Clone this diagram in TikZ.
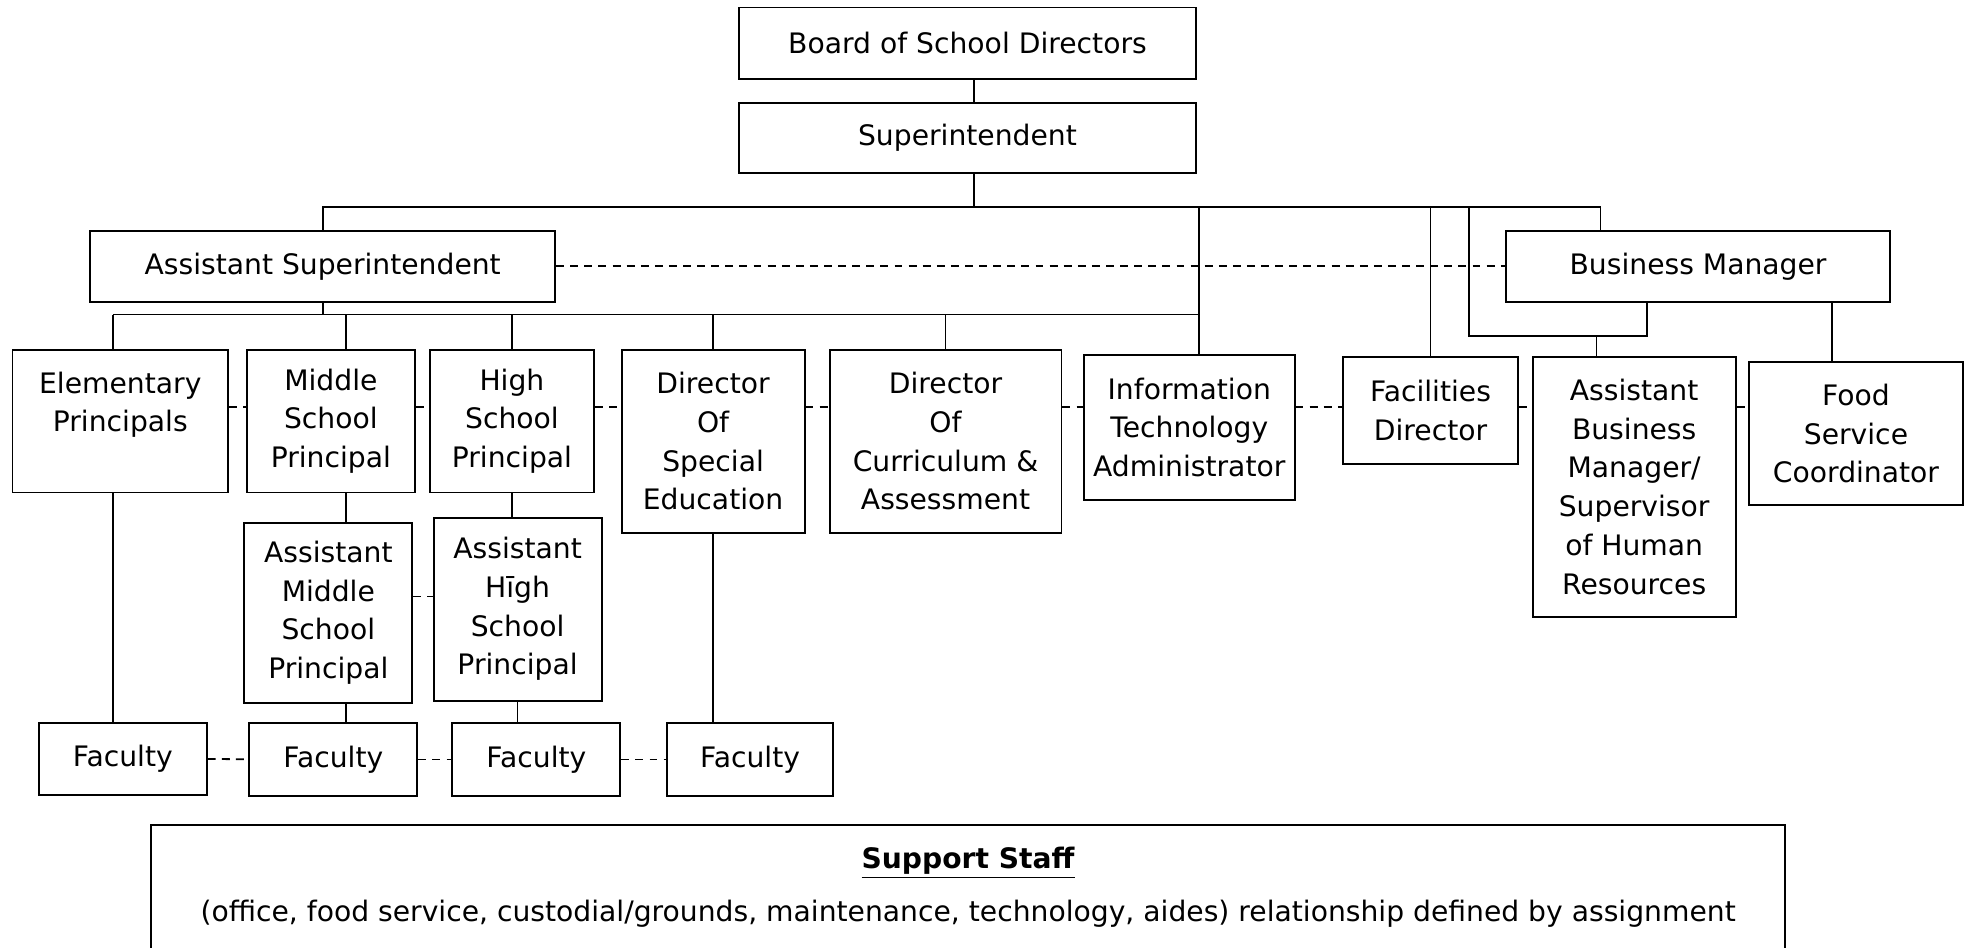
\documentclass[tikz,border=0pt]{standalone}
\usepackage{fontspec}
\setmainfont{DejaVu Sans}

\begin{document}
\begin{tikzpicture}[
    x=0.025cm, y=-0.025cm,
    box/.style={draw, line width=1.1pt, align=center, inner sep=2pt, font=\fontsize{16}{22}\selectfont},
    link/.style={line width=1pt},
    peer/.style={line width=1pt, dash pattern=on 4.5pt off 3.5pt}
]
    \useasboundingbox (0,0) rectangle (1568,756);

    % top of the chart
    \node[box, minimum width=9.1cm, minimum height=1.425cm] (board) at (772,34.5) {Board of School Directors};
    \node[box, minimum width=9.1cm, minimum height=1.4cm] (super) at (772,110) {Superintendent};
    \node[box, minimum width=9.275cm, minimum height=1.425cm] (asup) at (257.5,212.5) {Assistant Superintendent};
    \node[box, minimum width=7.65cm, minimum height=1.425cm] (bm) at (1355,212.5) {Business Manager};

    % principals and directors
    \node[box, minimum width=4.3cm, minimum height=2.85cm] (elem) at (96,336) {Elementary\\Principals\\~};
    \node[box, minimum width=3.35cm, minimum height=2.85cm] (mid) at (264,336) {Middle\\School\\Principal};
    \node[box, minimum width=3.275cm, minimum height=2.85cm] (high) at (408.5,336) {High\\School\\Principal};
    \node[box, minimum width=3.65cm, minimum height=3.65cm] (sped) at (569,352) {Director\\Of\\Special\\Education};
    \node[box, minimum width=4.625cm, minimum height=3.65cm] (curr) at (754.5,352) {Director\\Of\\Curriculum \&\\Assessment};
    \node[box, minimum width=4.2cm, minimum height=2.9cm] (itadmin) at (949,341) {Information\\Technology\\Administrator};
    \node[box, minimum width=3.475cm, minimum height=2.125cm] (facdir) at (1141.5,327.5) {Facilities\\Director};
    \node[box, minimum width=4.05cm, minimum height=5.175cm] (abm) at (1304,388.5) {Assistant\\Business\\Manager/\\Supervisor\\of Human\\Resources};
    \node[box, minimum width=4.25cm, minimum height=2.85cm] (food) at (1481,346) {Food\\Service\\Coordinator};

    % assistants
    \node[box, minimum width=3.35cm, minimum height=3.6cm] (amid) at (262,489) {Assistant\\Middle\\School\\Principal};
    \node[box, minimum width=3.35cm, minimum height=3.65cm] (ahigh) at (413,486) {Assistant\\Hīgh\\School\\Principal};

    % faculty
    \node[box, minimum width=3.35cm, minimum height=1.425cm] (fac1) at (98,605.5) {Faculty};
    \node[box, minimum width=3.35cm, minimum height=1.45cm] (fac2) at (266,606) {Faculty};
    \node[box, minimum width=3.35cm, minimum height=1.45cm] (fac3) at (428,606) {Faculty};
    \node[box, minimum width=3.325cm, minimum height=1.45cm] (fac4) at (598.5,606) {Faculty};

    \node[box, minimum width=32.575cm, minimum height=2.5cm] (support) at (772.5,708)
        {\textbf{\underline{Support Staff}}\\[8pt](office, food service, custodial/grounds, maintenance, technology, aides) relationship defined by assignment};

    % bus lines
    \coordinate (bus) at (777,165);
    \coordinate (abus) at (257.5,251);
    \coordinate (bmbus) at (1172,268);
    \coordinate (peerrow) at (0,325);
    \coordinate (arow) at (0,476);
    \coordinate (elemcol) at (90,0);
    \coordinate (midcol) at (276,0);
    \coordinate (itdrop) at ([xshift=0.2cm]itadmin.north);
    \coordinate (abmdrop) at ([xshift=-0.75cm]abm.north);
    \coordinate (fooddrop) at ([xshift=-0.475cm]food.north);

    \draw[link] (board.south -| bus) -- (super.north -| bus);
    \draw[link] (super.south -| bus) -- (bus);
    \draw[link] (asup.north) |- (bus) -| ([xshift=1.9cm]bm.north west);
    \draw[link] (itdrop |- bus) -- (itdrop);
    \draw[link] (facdir.north |- bus) -- (facdir.north);
    \draw[link] (bmbus |- bus) -- (bmbus) -| ([xshift=-1.025cm]bm.south);
    \draw[link] (abmdrop |- bmbus) -- (abmdrop);
    \draw[link] (fooddrop |- bm.south) -- (fooddrop);

    \draw[link] (asup.south) -- (abus);
    \draw[link] (elemcol |- abus) -- (itdrop |- abus);
    \draw[link] (elemcol |- abus) -- (elemcol |- elem.north);
    \draw[link] (midcol |- abus) -- (midcol |- mid.north);
    \foreach \n in {high, sped, curr}
        \draw[link] (\n.north |- abus) -- (\n.north);

    \draw[link] (midcol |- mid.south) -- (midcol |- amid.north);
    \draw[link] (midcol |- amid.south) -- (midcol |- fac2.north);
    \draw[link] (elemcol |- elem.south) -- (elemcol |- fac1.north);
    \draw[link] (high.south) -- (high.south |- ahigh.north);
    \draw[link] (ahigh.south) -- (ahigh.south |- fac3.north);
    \draw[link] (sped.south) -- (sped.south |- fac4.north);

    % dashed peer lines
    \draw[peer] (asup) -- (bm);
    \foreach \a/\b in {elem/mid, mid/high, high/sped, sped/curr, curr/itadmin, itadmin/facdir, facdir/abm, abm/food}
        \draw[peer] (\a.east |- peerrow) -- (\b.west |- peerrow);
    \draw[peer] (amid.east |- arow) -- (ahigh.west |- arow);
    \foreach \a/\b in {fac1/fac2, fac2/fac3, fac3/fac4}
        \draw[peer] (\a) -- (\b);
\end{tikzpicture}
\end{document}
